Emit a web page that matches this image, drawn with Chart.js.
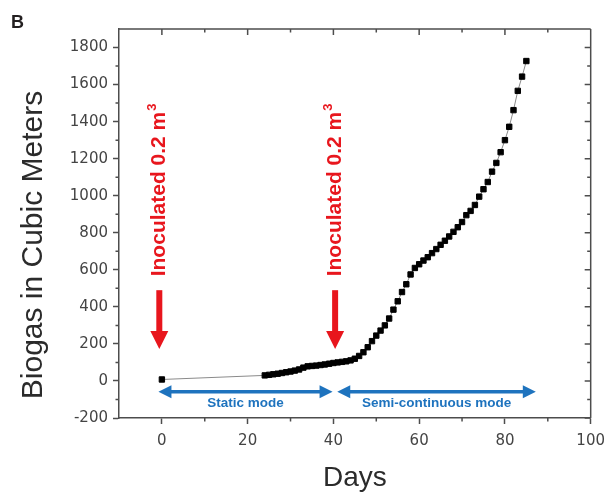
<!DOCTYPE html>
<html lang="en">
<head>
  <meta charset="UTF-8">
  <title>biogas production</title>
  <script src="https://cdn.jsdelivr.net/npm/chart.js"></script>
  <style>
    html, body { margin: 0; padding: 0; background: #fff; }
    canvas { display: block; }
  </style>
</head>
<body>
  <canvas id="biogasChart" width="613" height="492"></canvas>

  <script>
    // days of the run and the cumulative biogas
    const days = [0, 24, 25, 26, 27, 28, 29, 30, 31, 32, 33, 34, 35, 36, 37, 38, 39, 40,
      41, 42, 43, 44, 45, 46, 47, 48, 49, 50, 51, 52, 53, 54, 55, 56, 57, 58, 59, 60,
      61, 62, 63, 64, 65, 66, 67, 68, 69, 70, 71, 72, 73, 74, 75, 76, 77, 78, 79, 80,
      81, 82, 83, 84, 85]
    const biogas = [8, 30, 33, 36, 39, 43, 47, 51, 56, 62, 72, 79, 81, 83, 86, 89, 93, 97,
      100, 103, 106, 111, 120, 135, 155, 182, 215, 245, 272, 300, 337, 385, 430, 480, 522, 575, 610, 630,
      650, 668, 690, 712, 735, 757, 780, 805, 830, 858, 895, 918, 950, 995, 1035, 1074, 1130, 1177, 1235, 1300,
      1372, 1462, 1566, 1643, 1727]

    const xTicks = [0, 20, 40, 60, 80, 100]
    const xMinor = [10, 30, 50, 70, 90]
    const yTicks = [-200, 0, 200, 400, 600, 800, 1000, 1200, 1400, 1600, 1800]
    const yMinor = [-100, 100, 300, 500, 700, 900, 1100, 1300, 1500, 1700]
    const yTitle = 'Biogas in Cubic Meters'

    // annotations, in data units
    const inoculationDays = [-0.6, 40.4]
    const inoculationText = 'Inoculated 0.2 m'
    const arrowTop = 490
    const arrowTip = 172
    const labelStart = 565
    const modeLabels = ['Static mode', 'Semi-continuous mode']
    const modeStarts = [-0.8, 40.9]
    const modeEnds = [39.8, 87.2]
    const modeArrowY = -58
    const modeLabelY = -119

    const axisColor = '#4d4d4d'
    const red = '#e8161d'
    const blue = '#1e73be'

    const extras = {
      id: 'extras',
      afterDraw(chart) {
        const { ctx, chartArea: a, scales: { x, y } } = chart
        ctx.save()

        // frame, minor ticks, inward ticks on top and right
        ctx.strokeStyle = axisColor
        ctx.lineWidth = 1.5
        ctx.beginPath()
        ctx.moveTo(a.left, a.top); ctx.lineTo(a.right, a.top)
        ctx.moveTo(a.right, a.top); ctx.lineTo(a.right, a.bottom)
        xTicks.forEach(v => {
          const px = x.getPixelForValue(v)
          ctx.moveTo(px, a.top); ctx.lineTo(px, a.top + 6)
        })
        xMinor.forEach(v => {
          const px = x.getPixelForValue(v)
          ctx.moveTo(px, a.top); ctx.lineTo(px, a.top + 3.5)
          ctx.moveTo(px, a.bottom); ctx.lineTo(px, a.bottom + 3.5)
        })
        yTicks.forEach(v => {
          const py = y.getPixelForValue(v)
          ctx.moveTo(a.right, py); ctx.lineTo(a.right - 6, py)
        })
        yMinor.forEach(v => {
          const py = y.getPixelForValue(v)
          ctx.moveTo(a.right, py); ctx.lineTo(a.right - 3.5, py)
          ctx.moveTo(a.left, py); ctx.lineTo(a.left - 3.5, py)
        })
        ctx.stroke()

        // y axis title, sits a little below the axis middle in the original
        ctx.save()
        ctx.translate(34, 245)
        ctx.rotate(-Math.PI / 2)
        ctx.fillStyle = '#2b2b2b'
        ctx.font = '30px "Liberation Sans", Arial, sans-serif'
        ctx.textAlign = 'center'
        ctx.textBaseline = 'middle'
        ctx.fillText(yTitle, 0, 0)
        ctx.restore()

        // red inoculation arrows and rotated labels
        inoculationDays.forEach(d => {
          const px = x.getPixelForValue(d)
          const top = y.getPixelForValue(arrowTop)
          const tip = y.getPixelForValue(arrowTip)
          ctx.fillStyle = red
          ctx.fillRect(px - 3, top, 6, tip - top - 16)
          ctx.beginPath()
          ctx.moveTo(px - 9, tip - 18)
          ctx.lineTo(px + 9, tip - 18)
          ctx.lineTo(px, tip)
          ctx.closePath()
          ctx.fill()

          ctx.save()
          ctx.translate(px - 2, y.getPixelForValue(labelStart))
          ctx.rotate(-Math.PI / 2)
          ctx.font = 'bold 21px "Liberation Sans", Arial, sans-serif'
          ctx.textBaseline = 'alphabetic'
          ctx.textAlign = 'left'
          ctx.fillText(inoculationText, 0, 7.5)
          const w = ctx.measureText(inoculationText).width
          ctx.font = 'bold 13px "Liberation Sans", Arial, sans-serif'
          ctx.fillText('3', w + 1, -1)
          ctx.restore()
        })

        // blue mode arrows
        ctx.strokeStyle = blue
        ctx.fillStyle = blue
        ctx.lineWidth = 3.5
        const ay = y.getPixelForValue(modeArrowY)
        modeStarts.forEach((s, i) => {
          const x1 = x.getPixelForValue(s)
          const x2 = x.getPixelForValue(modeEnds[i])
          ctx.beginPath()
          ctx.moveTo(x1 + 8, ay); ctx.lineTo(x2 - 8, ay)
          ctx.stroke()
          ctx.beginPath()
          ctx.moveTo(x1, ay); ctx.lineTo(x1 + 13, ay - 6.5); ctx.lineTo(x1 + 13, ay + 6.5)
          ctx.closePath(); ctx.fill()
          ctx.beginPath()
          ctx.moveTo(x2, ay); ctx.lineTo(x2 - 13, ay - 6.5); ctx.lineTo(x2 - 13, ay + 6.5)
          ctx.closePath(); ctx.fill()

          ctx.font = 'bold 13.5px "Liberation Sans", Arial, sans-serif'
          ctx.textAlign = 'center'
          ctx.textBaseline = 'middle'
          ctx.fillText(modeLabels[i], (x1 + x2) / 2, y.getPixelForValue(modeLabelY))
        })

        // panel letter
        ctx.fillStyle = '#231f20'
        ctx.font = 'bold 18px "Liberation Sans", Arial, sans-serif'
        ctx.textAlign = 'left'
        ctx.textBaseline = 'alphabetic'
        ctx.fillText('B', 11, 28)

        ctx.restore()
      }
    }

    const tickFont = { family: '"DejaVu Sans", sans-serif', size: 15 }
    const plain = v => String(v)

    const ctx = document.getElementById('biogasChart').getContext('2d')
    const biogasChart = new Chart(ctx, {
      type: 'scatter',
      data: {
        datasets: [{
          label: 'Biogas',
          data: days.map((d, i) => ({ x: d, y: biogas[i] })),
          showLine: true,
          borderColor: '#8a8a8a',
          borderWidth: 1,
          pointStyle: 'rect',
          pointRadius: 3.8,
          pointBorderWidth: 1,
          pointBackgroundColor: '#000',
          pointBorderColor: '#000'
        }]
      },
      options: {
        responsive: false,
        animation: false,
        layout: { padding: { top: 29, right: 20, left: 0, bottom: 0 } },
        plugins: { legend: { display: false }, tooltip: { enabled: false } },
        scales: {
          x: {
            type: 'linear',
            min: -10,
            max: 100,
            afterBuildTicks: s => { s.ticks = xTicks.map(v => ({ value: v })) },
            afterFit: s => { s.height = 74 },
            grid: { drawOnChartArea: false, tickLength: 6, tickColor: axisColor, tickWidth: 1.5 },
            border: { display: true, color: axisColor, width: 1.5 },
            ticks: { font: tickFont, color: '#444', padding: 8, maxRotation: 0, callback: plain },
            title: {
              display: true, text: 'Days', color: '#2b2b2b',
              font: { family: '"Liberation Sans", Arial, sans-serif', size: 28, lineHeight: 1 },
              padding: { top: 0, bottom: 0 }
            }
          },
          y: {
            type: 'linear',
            min: -200,
            max: 1900,
            afterBuildTicks: s => { s.ticks = yTicks.map(v => ({ value: v })) },
            afterFit: s => { s.width = 119 },
            grid: { drawOnChartArea: false, tickLength: 6, tickColor: axisColor, tickWidth: 1.5 },
            border: { display: true, color: axisColor, width: 1.5 },
            ticks: { font: tickFont, color: '#444', padding: 5, callback: plain }
          }
        }
      },
      plugins: [extras]
    })
  </script>
</body>
</html>
